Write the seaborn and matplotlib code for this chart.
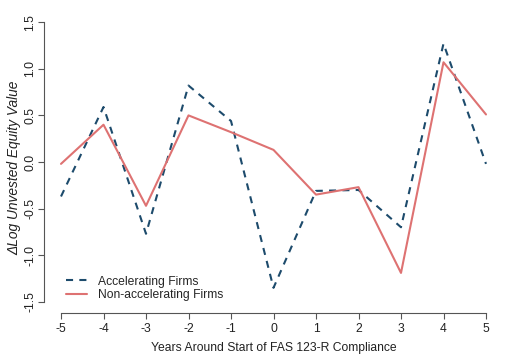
import matplotlib
matplotlib.use("Agg")
import matplotlib.pyplot as plt
import seaborn as sns
import pandas as pd
from matplotlib.lines import Line2D

years = [-5, -4, -3, -2, -1, 0, 1, 2, 3, 4, 5]
accelerating = [-0.37, 0.59, -0.77, 0.82, 0.44, -1.35, -0.31, -0.30, -0.70, 1.27, -0.02]
non_accelerating = [-0.02, 0.40, -0.47, 0.50, 0.32, 0.13, -0.35, -0.27, -1.19, 1.07, 0.51]
series_names = ["Accelerating Firms", "Non-accelerating Firms"]
y_ticks = [-1.5, -1.0, -0.5, 0.0, 0.5, 1.0, 1.5]
x_ticks = years

sns.set_style("white")
plt.rcParams['font.family'] = ['Liberation Sans', 'DejaVu Sans']

df = pd.DataFrame({
    "year": years * 2,
    "value": accelerating + non_accelerating,
    "series": [series_names[0]] * len(years) + [series_names[1]] * len(years),
})

fig = plt.figure(figsize=(5.12, 3.58), dpi=100)
ax = fig.add_axes([44/512, 1 - 313/358, (503-44)/512, (313-11)/358])

palette = {series_names[0]: "#1d4b6c", series_names[1]: "#de7272"}
lw = 1.5
dash = (3.4, 3.0)
sns.lineplot(data=df, x="year", y="value", hue="series", style="series",
             palette=palette, dashes={series_names[0]: dash, series_names[1]: ""},
             linewidth=lw, ax=ax, legend=False)

fs = 8.7
ax.set_xlim(-5.4, 5.4)
ax.set_ylim(-1.62, 1.62)
ax.set_xticks(x_ticks)
ax.set_xticklabels([str(v) for v in x_ticks], fontsize=fs, color="#222222")
ax.set_yticks(y_ticks)
ax.set_yticklabels([f"{v:.1f}" for v in y_ticks], fontsize=fs, rotation=90, va="center", color="#222222")
ax.spines["top"].set_visible(False)
ax.spines["right"].set_visible(False)
for s in ["left", "bottom"]:
    ax.spines[s].set_color("#555555")
    ax.spines[s].set_linewidth(0.8)
ax.spines["left"].set_bounds(-1.5, 1.5)
ax.spines["bottom"].set_bounds(-5, 5)
ax.tick_params(axis="both", direction="out", length=4, width=0.8, color="#555555", bottom=True, left=True)
ax.tick_params(axis="x", pad=3)
ax.tick_params(axis="y", pad=1.5)

ax.set_xlabel("Years Around Start of FAS 123-R Compliance", fontsize=fs, color="#222222", labelpad=5)
ax.set_ylabel("ΔLog Unvested Equity Value", fontsize=9.9, color="#222222", style="italic")
ax.yaxis.set_label_coords(-0.050, 0.48)

handles = [Line2D([], [], color=palette[series_names[0]], lw=lw, dashes=dash),
           Line2D([], [], color=palette[series_names[1]], lw=lw)]
ax.legend(handles, series_names, loc="lower left", bbox_to_anchor=(0.03, 0.012), frameon=False,
          fontsize=fs, handlelength=1.7, handletextpad=0.95, labelspacing=0.1, borderpad=0.2)

fig.savefig("out.png", dpi=100)
